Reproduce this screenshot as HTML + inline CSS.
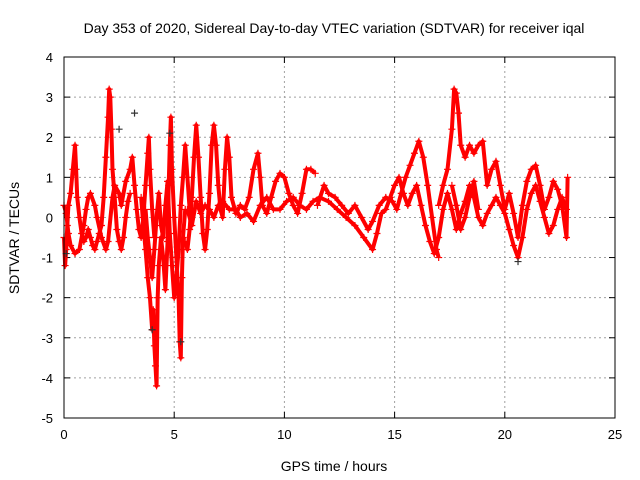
<!DOCTYPE html>
<html><head><meta charset="utf-8"><style>
body{margin:0;background:#fff}
svg{display:block;font-family:"Liberation Sans",sans-serif}
</style></head><body>
<svg id="chart" width="640" height="480">
<text x="334" y="33" font-size="14" text-anchor="middle">Day 353 of 2020, Sidereal Day-to-day VTEC variation (SDTVAR) for receiver iqal</text>
<text x="334" y="471" font-size="14" text-anchor="middle">GPS time / hours</text>
<text transform="translate(19,238) rotate(-90)" font-size="14" text-anchor="middle">SDTVAR / TECUs</text>
<g id="grid"></g><g id="marks"></g>
<rect x="64" y="57" width="551" height="361" fill="none" stroke="#000"/>
</svg>
<script>
const xTicks=[0,5,10,15,20,25];
const yTicks=[-5,-4,-3,-2,-1,0,1,2,3,4];
const track1=[[0,-0.5],[0.05,-1.2],[0.1,-0.8],[0.15,-0.2],[0.2,0.3],[0.3,0.6],[0.4,1.2],[0.5,1.8],[0.55,1.2],[0.6,0.5],[0.7,0],[0.8,-0.4],[0.9,-0.6],[1.0,-0.5],[1.1,-0.3],[1.2,-0.5],[1.3,-0.7],[1.4,-0.8],[1.5,-0.6],[1.6,-0.4],[1.7,-0.2],[1.8,0.5],[1.9,1.5],[2.0,2.5],[2.05,3.2],[2.1,3.0],[2.15,2.2],[2.2,1.2],[2.3,0.5],[2.4,-0.3],[2.5,-0.6],[2.6,-0.8],[2.7,-0.5],[2.8,0],[2.9,0.4],[3.0,0.6]];
const track2=[[0,0.3],[0.1,0.1],[0.2,-0.4],[0.3,-0.7],[0.5,-0.9],[0.7,-0.8],[0.9,-0.2],[1.0,0.2],[1.1,0.5],[1.2,0.6],[1.4,0.3],[1.5,0],[1.7,-0.5],[1.9,-0.8],[2.0,-0.6],[2.2,0.5],[2.3,0.8],[2.5,0.6],[2.6,0.3],[2.8,0.9],[3.0,1.2],[3.1,1.5],[3.2,0.8],[3.3,0.2],[3.4,-0.3],[3.5,-0.5],[3.6,0],[3.7,0.8],[3.8,1.6],[3.85,2.0],[3.9,1.2],[4.0,0.2],[4.1,-0.5]];
const track3=[[3.5,0.5],[3.6,-0.2],[3.7,-0.8],[3.8,-1.5],[3.9,-2.0],[4.0,-2.8],[4.05,-2.3],[4.1,-3.2],[4.15,-3.7],[4.2,-4.2],[4.25,-2.0],[4.3,-1.2],[4.4,-0.5],[4.5,-1.0],[4.6,-1.8],[4.7,-0.6],[4.75,0.8],[4.8,1.8],[4.85,2.5],[4.9,1.2],[5.0,0],[5.1,-1.0],[5.2,-2.0],[5.25,-3.1],[5.3,-3.5],[5.35,-1.5],[5.4,-0.5],[5.5,0.2]];
const track4=[[3.7,0.2],[3.8,-0.5],[3.9,-1.0],[4.0,-1.5],[4.1,-0.8],[4.2,0],[4.3,0.6],[4.4,-0.2],[4.5,-0.5],[4.6,0.3],[4.7,0.9],[4.8,-0.4],[4.9,-1.2],[5.0,-2.0],[5.1,-1.5],[5.2,-0.8],[5.3,0.3],[5.4,1.0],[5.5,1.8],[5.6,1.0],[5.7,0.2]];
const track5=[[5.5,-0.6],[5.6,-0.8],[5.7,-0.3],[5.8,0.5],[5.9,1.5],[6.0,2.3],[6.1,1.5],[6.2,0.5],[6.3,-0.4],[6.4,-0.8],[6.5,-0.3],[6.6,0.6],[6.7,1.8],[6.8,2.3],[6.9,1.8],[7.0,0.8],[7.1,0.2],[7.2,0],[7.3,1.2],[7.4,2.0],[7.5,1.5],[7.6,0.5],[7.8,0.1],[8.0,0.3],[8.2,0.2],[8.4,0.5],[8.6,1.2],[8.8,1.6],[8.9,1.0],[9.0,0.3],[9.2,0.1],[9.4,0.5],[9.6,0.9],[9.8,1.1],[10.0,1.0],[10.2,0.6],[10.4,0.3],[10.6,0.1],[10.8,0.6],[11.0,1.2],[11.2,1.2],[11.4,1.1]];
const track6=[[5.6,0.2],[5.8,-0.2],[6.0,0.4],[6.2,0.1],[6.4,0.3],[6.6,0.2],[6.8,0],[7.0,0.3],[7.2,0.4],[7.5,0.2],[7.8,0.2],[8.0,0],[8.3,0.1],[8.6,-0.1],[8.9,0.3],[9.2,0.5],[9.5,0.2],[9.8,0.2],[10.1,0.4],[10.4,0.5],[10.7,0.3],[11.0,0.2],[11.3,0.4],[11.6,0.5],[12.0,0.4],[12.4,0.2],[12.8,0],[13.2,-0.2],[13.6,-0.5],[14.0,-0.8],[14.2,-0.4],[14.4,0.1],[14.6,0.2],[14.8,0.5],[15.0,0.8],[15.2,1.0],[15.4,0.6],[15.6,0.3],[15.8,0.6],[16.0,0.8],[16.2,0.3],[16.4,-0.2],[16.6,-0.6],[16.8,-0.9],[17.0,-0.5],[17.2,0.2],[17.4,0.6],[17.6,0.2],[17.8,-0.3],[18.0,0.1],[18.2,0.4],[18.4,0.8],[18.6,0.5],[18.8,0],[19.0,-0.2],[19.2,0.1],[19.4,0.3],[19.6,0.5],[19.8,0.3],[20.0,0.1],[20.2,-0.3],[20.4,-0.7],[20.6,-1.0],[20.8,-0.5],[21.0,0.2],[21.2,0.6],[21.4,0.8],[21.6,0.4],[21.8,0],[22.0,-0.4],[22.2,-0.2],[22.4,0.2],[22.6,0.5],[22.8,0.2]];
const track7=[[11.5,0.3],[11.8,0.8],[12.0,0.6],[12.3,0.5],[12.6,0.3],[12.9,0.1],[13.2,0.3],[13.5,0],[13.8,-0.3],[14.0,-0.1],[14.3,0.3],[14.6,0.5],[14.9,0.4],[15.1,0.2],[15.3,0.6],[15.5,1.0],[15.7,1.3],[15.9,1.6],[16.1,1.9],[16.3,1.5],[16.5,0.8],[16.7,0],[16.9,-0.8],[17.0,-1.0]];
const track8=[[17.0,0.3],[17.2,0.8],[17.4,1.2],[17.6,2.2],[17.7,3.2],[17.8,3.1],[17.9,2.6],[18.0,1.8],[18.2,1.5],[18.4,1.8],[18.6,1.6],[18.8,1.8],[19.0,1.9],[19.2,0.8],[19.4,1.2],[19.6,1.4],[19.8,0.8],[20.0,0.2],[20.2,0.6],[20.4,0.1],[20.6,-0.5],[20.8,0.3],[21.0,0.9],[21.2,1.2],[21.4,1.3],[21.6,0.8],[21.8,0.2],[22.0,0.5],[22.2,0.9],[22.4,0.7],[22.6,0.3],[22.8,-0.5],[22.85,1.0]];
const track9=[[17.6,0.8],[17.8,0.3],[18.0,-0.3],[18.2,0],[18.4,0.5],[18.6,0.9],[18.8,0.2]];
const blackPts=[[0.1,-0.9],[2.5,2.2],[3.2,2.6],[4.0,-2.8],[4.8,2.1],[5.3,-3.1],[20.6,-1.1]];
const tracks=[track1,track2,track3,track4,track5,track6,track7,track8,track9];
const X0=64,X1=615,Y0=418,Y1=57;
const xs=v=>X0+(v-0)/(25-0)*(X1-X0);
const ys=v=>Y0-(v+5)/9*(Y0-Y1);
const NS="http://www.w3.org/2000/svg";
const grid=document.getElementById('grid'),marks=document.getElementById('marks');
function mk(tag,attrs,parent){const e=document.createElementNS(NS,tag);for(const k in attrs)e.setAttribute(k,attrs[k]);parent.appendChild(e);return e;}
xTicks.forEach(t=>{const x=xs(t);
 if(t>0&&t<25){const l=mk('line',{x1:x,x2:x,y1:Y0,y2:Y1,stroke:'#a0a0a0','stroke-dasharray':'2,3'},grid);
 
 }
 mk('line',{x1:x,x2:x,y1:Y0,y2:Y0-6,stroke:'#000'},grid);
 mk('line',{x1:x,x2:x,y1:Y1,y2:Y1+6,stroke:'#000'},grid);
 const tx=mk('text',{x:x,y:Y0+21,'font-size':13,'text-anchor':'middle'},grid);tx.textContent=t;
 
 });
yTicks.forEach(t=>{const y=ys(t);
 if(t>-5&&t<4){const l=mk('line',{x1:X0,x2:X1,y1:y,y2:y,stroke:'#a0a0a0','stroke-dasharray':'2,3'},grid);
 
 }
 mk('line',{x1:X0,x2:X0+6,y1:y,y2:y,stroke:'#000'},grid);
 mk('line',{x1:X1,x2:X1-6,y1:y,y2:y,stroke:'#000'},grid);
 const tx=mk('text',{x:X0-11,y:y+5,'font-size':13,'text-anchor':'end'},grid);tx.textContent=t;
 
 });
function plus(t,v,col){const x=xs(t),y=ys(v);
 const p=mk('path',{d:`M${x-3.5},${y}h7M${x},${y-3.5}v7`,stroke:col,'stroke-width':1.2},marks);
 
 }
tracks.forEach(tr=>{
 const pl=mk('polyline',{points:tr.map(p=>xs(p[0])+','+ys(p[1])).join(' '),fill:'none',stroke:'#ff0000','stroke-width':4,'stroke-linejoin':'round'},marks);
 
 
 tr.forEach(p=>plus(p[0],p[1],'#ff0000'));});
blackPts.forEach(p=>plus(p[0],p[1],'#333'));
</script>
</body></html>
